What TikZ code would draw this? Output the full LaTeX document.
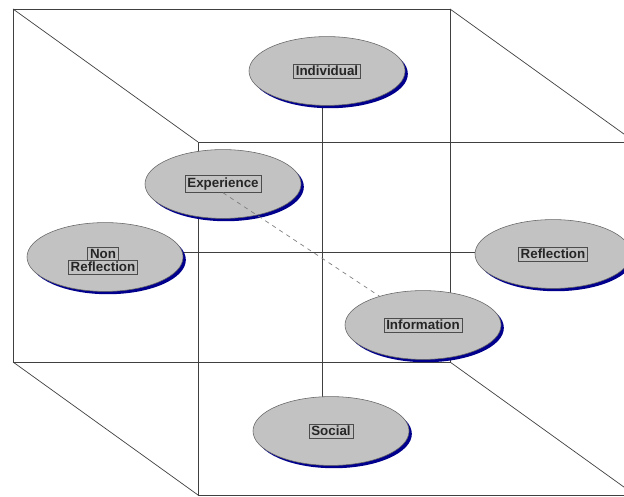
\documentclass[tikz,border=0pt]{standalone}
\usepackage{fontspec}
\setmainfont{Liberation Sans}
\usetikzlibrary{shapes.geometric,shadows,backgrounds}

\begin{document}
\begin{tikzpicture}[x=0.025cm, y=-0.025cm,
    edge/.style={draw=black!75, line width=0.5pt},
    pole/.style={ellipse, draw=black!60, fill=black!24, line width=0.4pt,
      minimum width=3.9cm, minimum height=1.72cm, inner sep=0pt,
      drop shadow={shadow xshift=2pt, shadow yshift=-2pt, fill=blue!55!black, opacity=1}},
    tag/.style={draw=black!70, fill=black!24, inner sep=1.6pt,
      font=\bfseries\fontsize{9.5}{10}\selectfont, text=black!85}]
    \useasboundingbox (0,0) rectangle (624,497);
    \clip (0,0) rectangle (624,497);

    % Poles
    \node[pole] (ind)  at (327,71)  {};
    \node[pole] (exp)  at (223,184) {};
    \node[pole] (nonr) at (105,257) {};
    \node[pole] (refl) at (553,254) {};
    \node[pole] (info) at (423,325) {};
    \node[pole] (soc)  at (331,431) {};

    % Labels
    \node[tag] (indT)  at (ind)  {Individual};
    \node[tag] (expT)  at (exp)  {Experience};
    \node[tag] (reflT) at (refl) {Reflection};
    \node[tag] (infoT) at (info) {Information};
    \node[tag] (socT)  at (soc)  {Social};
    \node[tag] (nonrB) at (103,267) {Reflection};
    \node[tag, anchor=south] (nonrA) at ([yshift=-1pt]nonrB.north) {Non};

    % Cube and axes behind the poles
    \coordinate (hub) at (322,252);
    \begin{pgfonlayer}{background}
      \draw[edge] (13,9) rectangle (450,362);
      \draw[edge] (198,142) rectangle (635,495);
      \foreach \x/\y in {13/9, 450/9, 450/362, 13/362}
        \draw[edge] (\x,\y) -- ++(185,133);
      \draw[edge] (hub |- ind) -- (hub |- soc);
      \draw[edge] (hub -| nonr) -- (hub -| refl);
    \end{pgfonlayer}

    % Experience to Information
    \draw[dashed, gray, line width=0.5pt] (expT.south) -- (info);
  \end{tikzpicture}
\end{document}
